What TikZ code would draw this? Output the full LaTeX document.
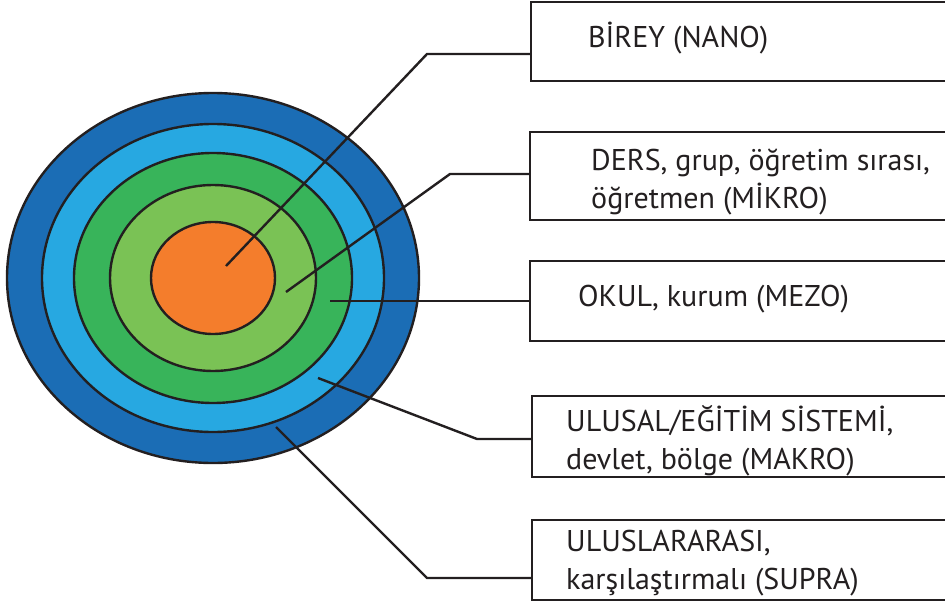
\documentclass[tikz,border=0pt]{standalone}
\usepackage{fontspec}
\setmainfont{PT Sans}
\usetikzlibrary{positioning}

\definecolor{inkgray}{HTML}{231F20}
\definecolor{supradark}{HTML}{1B6DB5}
\definecolor{makroblue}{HTML}{27A8E1}
\definecolor{mezogreen}{HTML}{38B45A}
\definecolor{mikrogreen}{HTML}{7AC255}
\definecolor{nanoorange}{HTML}{F47D2C}

\tikzset{
  ring/.style={draw=inkgray, line width=2.4pt},
  levelbox/.style={draw=inkgray, line width=2.4pt, minimum width=430pt, inner sep=0pt},
  leveltext/.style={anchor=west, align=left, inner sep=0pt, text=inkgray,
    font=\fontsize{30}{38}\selectfont},
  leader/.style={draw=inkgray, line width=2.4pt},
}

\begin{document}
\begin{tikzpicture}[x=1pt, y=-1pt]
  \useasboundingbox (0,0) rectangle (945,602);
  \clip (0,0) rectangle (945,602);

  % the five levels, outside in
  \filldraw[ring, fill=supradark]  (213,278) ellipse [x radius=206pt, y radius=185pt];
  \filldraw[ring, fill=makroblue]  (213,278) ellipse [x radius=171pt, y radius=154pt];
  \filldraw[ring, fill=mezogreen]  (213,278) ellipse [x radius=139pt, y radius=125pt];
  \filldraw[ring, fill=mikrogreen] (213,278) ellipse [x radius=103pt, y radius=93pt];
  \filldraw[ring, fill=nanoorange] (213,278) ellipse [x radius=62pt, y radius=56pt];

  % boxes on the right
  \node[levelbox, minimum height=79pt] (nano)  at (746,41.5) {};
  \node[levelbox, minimum height=88pt] (mikro) at (745,176) {};
  \node[levelbox, minimum height=80pt] (mezo)  at (745,301) {};
  \node[levelbox, minimum height=81pt] (makro) at (747,436.5) {};
  \node[levelbox, minimum height=80pt] (supra) at (747,560) {};

  \node[leveltext] (nanotext)  at (588,38)  {BİREY (NANO)};
  \node[leveltext] (mikrotext) at (591,182) {DERS, grup, öğretim sırası,\\öğretmen (MİKRO)};
  \node[leveltext] (mezotext)  at (578,299) {OKUL, kurum (MEZO)};
  \node[leveltext] (makrotext) at (566,441) {ULUSAL/EĞİTİM SİSTEMİ,\\devlet, bölge (MAKRO)};
  \node[leveltext] (supratext) at (566,563) {ULUSLARARASI,\\karşılaştırmalı (SUPRA)};

  % leader lines
  \coordinate (nanoin)   at (226,266);
  \coordinate (nanobend) at (427,54);
  \coordinate (mikroin)  at (286,292);
  \coordinate (mikrobend) at (450,174);
  \coordinate (mezoin)   at (330,301);
  \coordinate (makroin)  at (318,378);
  \coordinate (makrobend) at (477,439);
  \coordinate (suprain)  at (276,427);
  \coordinate (suprabend) at (427,578);

  \draw[leader] (nanoin) -- (nanobend) -- (nanobend -| nano.west);
  \draw[leader] (mikroin) -- (mikrobend) -- (mikrobend -| mikro.west);
  \draw[leader] (mezoin) -- (mezoin -| mezo.west);
  \draw[leader] (makroin) -- (makrobend) -- (makrobend -| makro.west);
  \draw[leader] (suprain) -- (suprabend) -- (suprabend -| supra.west);
\end{tikzpicture}
\end{document}
